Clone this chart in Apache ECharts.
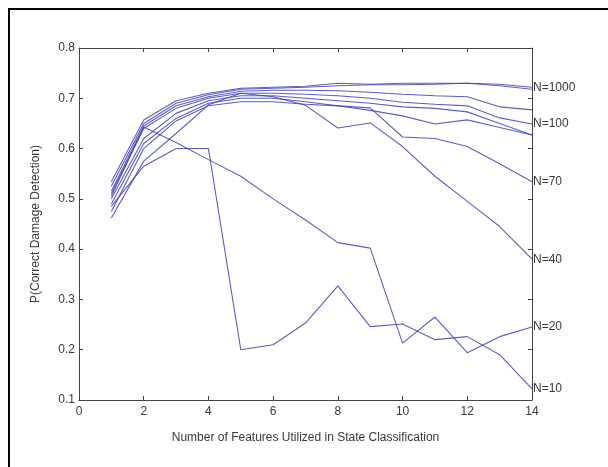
<!DOCTYPE html>
<html>
<head>
<meta charset="utf-8">
<script src="https://cdn.jsdelivr.net/npm/echarts@6/dist/echarts.min.js"></script>
<style>
html,body{margin:0;padding:0;background:#fff;}
#c{width:608px;height:467px;}
</style>
</head>
<body>
<div id="c"></div>
<script>
// Number of features (x)
const features = [1,2,3,4,5,6,7,8,9,10,11,12,13,14];

// P(correct damage detection) for each training size
const nA = [0.485,0.565,0.600,0.600,0.200,0.210,0.253,0.327,0.246,0.251,0.220,0.226,0.190,0.122]; // N=10
const nB = [0.505,0.643,0.612,0.578,0.545,0.500,0.458,0.413,0.402,0.213,0.265,0.194,0.226,0.245]; // N=20
const nC = [0.462,0.575,0.630,0.687,0.710,0.703,0.686,0.641,0.651,0.604,0.545,0.495,0.445,0.380]; // N=40
const nD = [0.475,0.600,0.655,0.685,0.693,0.693,0.688,0.685,0.681,0.623,0.620,0.604,0.570,0.534]; // N=70
const nE = [0.490,0.610,0.660,0.690,0.700,0.700,0.693,0.685,0.676,0.665,0.649,0.657,0.642,0.627];
const nF = [0.500,0.620,0.670,0.695,0.705,0.705,0.700,0.695,0.690,0.683,0.680,0.673,0.650,0.627];
const nG = [0.510,0.640,0.680,0.700,0.710,0.710,0.708,0.705,0.700,0.692,0.688,0.685,0.661,0.649]; // N=100
const nH = [0.515,0.645,0.685,0.703,0.714,0.716,0.716,0.715,0.712,0.708,0.705,0.703,0.683,0.677];
const nI = [0.525,0.650,0.690,0.707,0.718,0.720,0.722,0.725,0.727,0.727,0.728,0.730,0.725,0.718];
const nJ = [0.534,0.657,0.695,0.710,0.720,0.722,0.724,0.730,0.728,0.730,0.730,0.730,0.728,0.722]; // N=1000

const seriesList = [
  {data:nA, label:'N=10'},
  {data:nB, label:'N=20'},
  {data:nC, label:'N=40'},
  {data:nD, label:'N=70'},
  {data:nE, label:null},
  {data:nF, label:null},
  {data:nG, label:'N=100'},
  {data:nH, label:null},
  {data:nI, label:null},
  {data:nJ, label:'N=1000'}
];

const xTicks = [0,2,4,6,8,10,12,14];
const yTicks = [0.1,0.2,0.3,0.4,0.5,0.6,0.7,0.8];

const chart = echarts.init(document.getElementById('c'), null, {renderer:'canvas'});
const txt = '#383838';
const axisCol = '#444';
const font = 'Liberation Sans, Arial, sans-serif';

const series = seriesList.map((s,i)=>({
  type:'line',
  data: features.map((f,j)=>[f, s.data[j]]),
  showSymbol:false,
  symbol:'none',
  lineStyle:{color:'#4040c0', width:1.1, opacity:0.85},
  itemStyle:{color:'#4040c0'},
  animation:false,
  z: 2,
  endLabel: s.label ? {
    show:true, formatter:s.label, color:txt, fontSize:12, fontFamily:font, distance:1
  } : {show:false}
}));

chart.setOption({
  backgroundColor:'#fff',
  animation:false,
  grid:{left:79, right:76, top:48, bottom:67, show:false},
  xAxis:[{
    type:'value', min:0, max:14, interval:2,
    axisLine:{show:true, onZero:false, lineStyle:{color:axisCol, width:1}},
    axisTick:{show:true, inside:true, length:4, lineStyle:{color:axisCol}},
    splitLine:{show:false},
    axisLabel:{color:txt, fontSize:12, fontFamily:font, margin:6},
    name:'Number of Features Utilized in State Classification',
    nameLocation:'middle', nameGap:32,
    nameTextStyle:{color:txt, fontSize:12, fontFamily:font}
  },{
    type:'value', min:0, max:14, interval:2, position:'top',
    axisLine:{show:true, onZero:false, lineStyle:{color:axisCol, width:1}},
    axisTick:{show:true, inside:true, length:4, lineStyle:{color:axisCol}},
    splitLine:{show:false}, axisLabel:{show:false}
  }],
  yAxis:[{
    type:'value', min:0.1, max:0.8, interval:0.1,
    axisLine:{show:true, onZero:false, lineStyle:{color:axisCol, width:1}},
    axisTick:{show:true, inside:true, length:4, lineStyle:{color:axisCol}},
    splitLine:{show:false},
    axisLabel:{color:txt, fontSize:12, fontFamily:font, margin:4,
      formatter:(v)=>v.toFixed(1)},
    name:'P(Correct Damage Detection)',
    nameLocation:'middle', nameGap:37, nameRotate:90,
    nameTextStyle:{color:txt, fontSize:12, fontFamily:font}
  },{
    type:'value', min:0.1, max:0.8, interval:0.1, position:'right',
    axisLine:{show:true, onZero:false, lineStyle:{color:axisCol, width:1}},
    axisTick:{show:true, inside:true, length:4, lineStyle:{color:axisCol}},
    splitLine:{show:false}, axisLabel:{show:false}
  }],
  graphic:[{
    type:'rect', silent:true, z:100,
    shape:{x:9, y:9, width:700, height:500},
    style:{fill:null, stroke:'#000', lineWidth:2}
  }],
  series: series
});
</script>
</body>
</html>
